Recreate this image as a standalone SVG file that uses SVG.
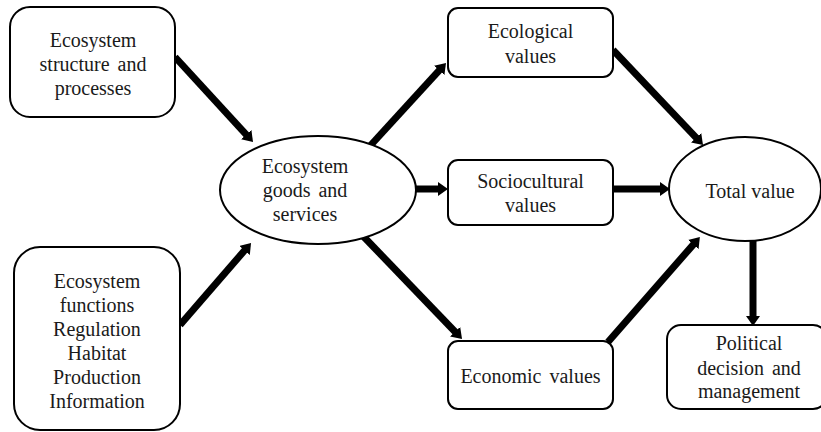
<svg xmlns="http://www.w3.org/2000/svg" width="821" height="432" viewBox="0 0 821 432">
<style>
.box{fill:#fff;stroke:#000;stroke-width:2}
text{font-family:'Liberation Serif','DejaVu Serif','Noto Serif',serif;font-size:20px;fill:#1a1a1a;text-anchor:middle}
.ws{word-spacing:3px}
.arr{stroke:#000;stroke-width:7;fill:none;marker-end:url(#ah)}
</style>
<defs>
<marker id="ah" viewBox="0 0 10 14" markerWidth="10" markerHeight="14" refX="2" refY="7" orient="auto" markerUnits="userSpaceOnUse">
<path d="M0,0 L10,7 L0,14 z" fill="#000"/>
</marker>
</defs>
<rect width="821" height="432" fill="#fff"/>
<g id="connectors">
<line class="arr" x1="175" y1="57" x2="247.6" y2="136.1"/>
<line class="arr" x1="180" y1="325" x2="245.8" y2="249"/>
<line class="arr" x1="370" y1="146" x2="440.6" y2="68.9"/>
<line class="arr" x1="414" y1="189" x2="440" y2="189"/>
<line class="arr" x1="363" y1="236" x2="456.5" y2="333.2"/>
<line class="arr" x1="613" y1="50" x2="697.5" y2="139.2"/>
<line class="arr" x1="613" y1="189" x2="662" y2="189"/>
<line class="arr" x1="608" y1="342" x2="694.6" y2="243.1"/>
<line class="arr" x1="753" y1="240" x2="753" y2="318"/>
</g>
<g id="structure">
<rect class="box" x="10" y="7" width="165" height="110" rx="20"/>
<text x="93" y="47">Ecosystem</text>
<text class="ws" x="93" y="71">structure and</text>
<text x="93" y="95">processes</text>
</g>
<g id="functions">
<rect class="box" x="14" y="247" width="166" height="183" rx="26"/>
<text x="97" y="288">Ecosystem</text>
<text x="97" y="312">functions</text>
<text x="97" y="336">Regulation</text>
<text x="97" y="360">Habitat</text>
<text x="97" y="384">Production</text>
<text x="97" y="408">Information</text>
</g>
<g id="goods">
<ellipse class="box" cx="318" cy="190" rx="98" ry="54"/>
<text x="305" y="173">Ecosystem</text>
<text class="ws" x="305" y="197">goods and</text>
<text x="305" y="221">services</text>
</g>
<g id="ecological">
<rect class="box" x="448" y="8" width="165" height="69" rx="10"/>
<text x="530.5" y="38">Ecological</text>
<text x="530.5" y="63">values</text>
</g>
<g id="sociocultural">
<rect class="box" x="448" y="160" width="165" height="65" rx="10"/>
<text x="530.5" y="188">Sociocultural</text>
<text x="530.5" y="212">values</text>
</g>
<g id="economic">
<rect class="box" x="448" y="341" width="165" height="68" rx="10"/>
<text class="ws" x="530.5" y="383">Economic values</text>
</g>
<g id="total">
<ellipse class="box" cx="745" cy="189" rx="76" ry="52"/>
<text x="750" y="198">Total value</text>
</g>
<g id="political">
<rect class="box" x="667" y="325" width="160" height="84" rx="14"/>
<text x="749" y="350">Political</text>
<text class="ws" x="749" y="375">decision and</text>
<text x="749" y="398">management</text>
</g>
</svg>
